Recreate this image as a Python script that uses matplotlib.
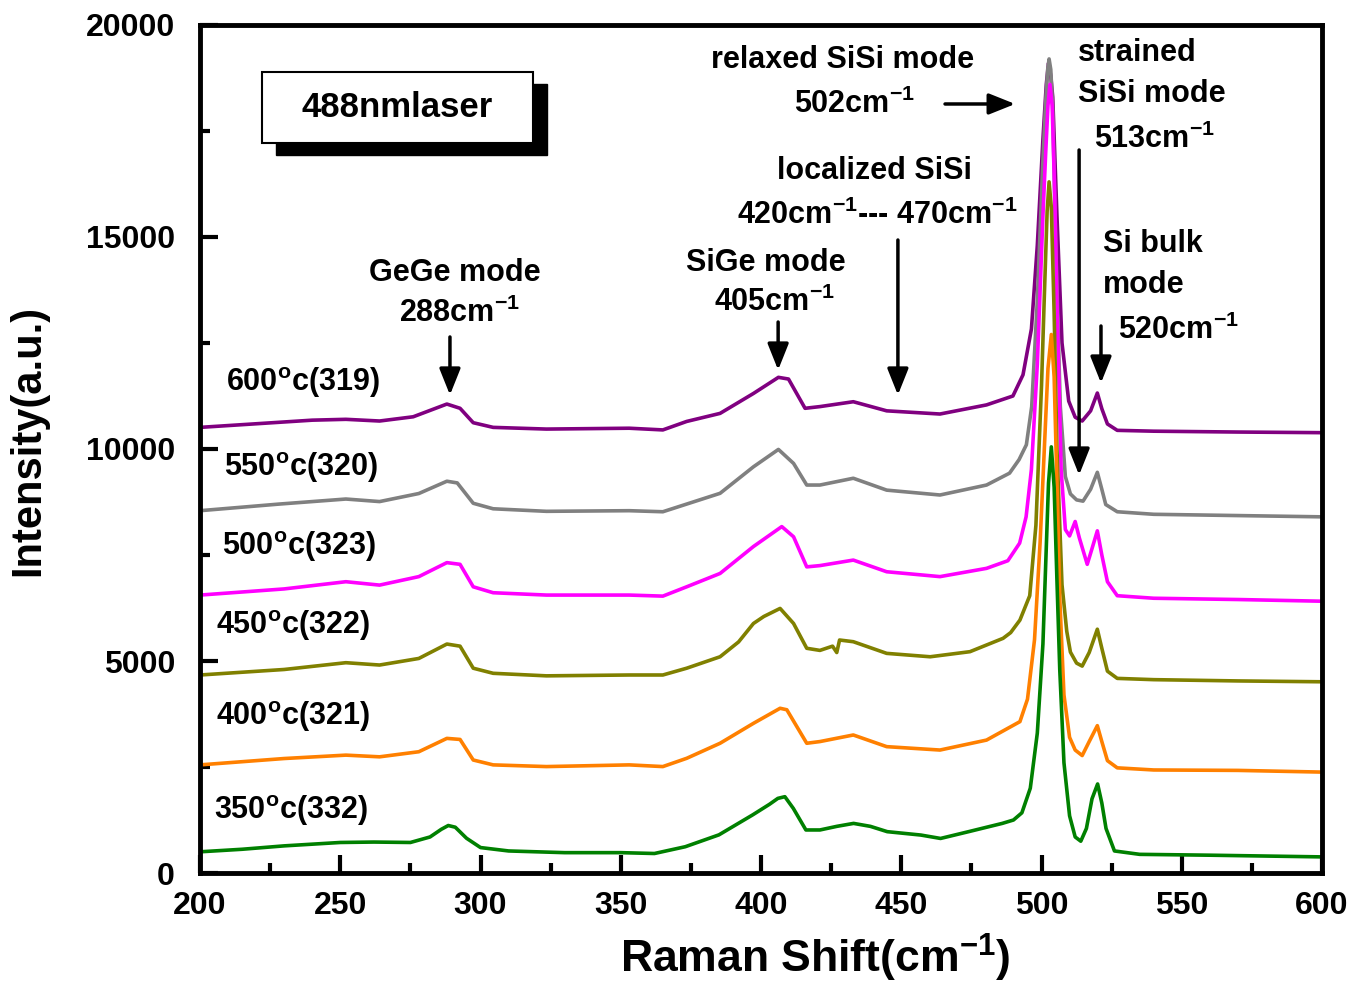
import matplotlib
matplotlib.use("Agg")
import matplotlib.pyplot as plt
from matplotlib.patches import Rectangle
from matplotlib.ticker import MultipleLocator

plt.rcParams["font.family"] = ["Liberation Sans", "DejaVu Sans"]
plt.rcParams["font.weight"] = "bold"
plt.rcParams["axes.labelweight"] = "bold"
plt.rcParams["mathtext.fontset"] = "custom"
plt.rcParams["mathtext.rm"] = "Liberation Sans:bold"
plt.rcParams["mathtext.it"] = "Liberation Sans:bold"
plt.rcParams["mathtext.bf"] = "Liberation Sans:bold"
plt.rcParams["mathtext.default"] = "rm"

# Raman spectra, stacked by anneal temperature (shift in cm^-1, intensity a.u.)
shift_350 = [200, 215, 230, 250, 262, 275, 282, 286, 288.5, 291, 295, 300, 310, 330, 350,
             362, 373, 385, 397, 403, 406, 408.5, 411.5, 416, 421, 427, 433, 439, 445, 457,
             464, 474, 486, 490, 493, 496, 498.5, 500.5, 501.5, 502.5, 503.5, 504.5, 505.5,
             506.5, 508, 510, 512, 514, 516, 518, 520, 521.5, 523, 526, 535, 560, 600]
inten_350 = [500, 560, 640, 720, 730, 720, 850, 1030, 1120, 1080, 820, 600, 520, 480, 480,
             460, 620, 900, 1370, 1620, 1760, 1800, 1525, 1015, 1015, 1100, 1170, 1100, 975, 895,
             815, 975, 1170, 1250, 1420, 2000, 3300, 5400, 7300, 9200, 10050, 9100, 6900,
             4800, 2600, 1350, 850, 750, 1050, 1750, 2100, 1650, 1050, 520, 440, 420, 380]

shift_400 = [200, 230, 252, 264, 278, 288, 292.7, 297.4, 304.5, 323.5, 353, 365, 373.5, 385.4,
             397.3, 406.8, 409.2, 416.3, 421, 432.9, 444.8, 463.8, 480.4, 492.3, 495, 497.5,
             499.5, 501, 502.3, 503.5, 504.5, 505.5, 506.5, 508, 510, 512, 514.5, 517, 519.9,
             521.5, 523.5, 527, 540, 570, 600]
inten_400 = [2550, 2700, 2780, 2740, 2860, 3175, 3150, 2665, 2550, 2510, 2550, 2510, 2705, 3060,
             3530, 3885, 3850, 3060, 3100, 3255, 2980, 2900, 3135, 3570, 4100, 5500,
             7800, 10000, 11900, 12700, 11700, 9200, 6500, 4200, 3200, 2900, 2770, 3100, 3475,
             3100, 2650, 2480, 2430, 2420, 2380]

shift_450 = [200, 230, 252, 264, 278, 288, 292.7, 297.4, 304.5, 323.5, 353, 365, 373.5, 385.4,
             392, 397.3, 401, 406.8, 411.6, 416.3, 421, 425.5, 427, 428, 432.9, 444.8, 460.3,
             474.5, 486.3, 489, 492.3, 495.8, 498, 500, 501, 502, 502.7, 503.5, 504.5, 505.5,
             507.3, 509, 510.3, 512.5, 514.5, 517, 519.9, 521.5, 523.5, 527, 540, 570, 600]
inten_450 = [4670, 4800, 4960, 4905, 5060, 5400, 5350, 4830, 4710, 4650, 4670, 4670, 4830, 5100,
             5450, 5885, 6050, 6240, 5885, 5300, 5250, 5350, 5200, 5495, 5455, 5180, 5100,
             5220, 5535, 5670, 5965, 6540, 8200, 11500, 13600, 15600, 16300, 15700, 13200, 10000,
             6800, 5700, 5210, 4950, 4880, 5200, 5750, 5300, 4760, 4590, 4560, 4530, 4510]

shift_500 = [200, 230, 252, 264, 278, 288, 292.7, 297.4, 304.5, 323.5, 353, 365, 373.5, 385.4,
             397.3, 407.4, 411.6, 416.3, 421, 432.9, 444.8, 463.8, 480.4, 488, 492.2, 494.5,
             496.4, 498.5, 500.5, 501.5, 502.3, 503, 503.8, 504.7, 505.5, 507, 508.5, 510, 512,
             513.5, 516.3, 518, 519.9, 521.5, 523.5, 527, 540, 570, 600]
inten_500 = [6555, 6700, 6870, 6790, 6990, 7320, 7280, 6750, 6610, 6555, 6555, 6530, 6750, 7065,
             7700, 8170, 7930, 7220, 7250, 7380, 7105, 6990, 7185, 7365, 7780, 8400,
             9520, 12000, 15500, 17000, 18100, 18600, 18100, 16000, 13500, 9500, 8100, 7950, 8290,
             7900, 7280, 7650, 8070, 7500, 6870, 6540, 6480, 6450, 6410]

shift_550 = [200, 228, 252, 264, 278, 288, 291.7, 297.4, 304.5, 323.5, 353, 365, 385.4, 397.3,
             406.2, 411.6, 416.3, 421, 432.9, 444.8, 463.8, 480.4, 488.6, 492, 494.6, 496.5,
             498.5, 500.5, 501.5, 502.2, 502.7, 503.3, 504, 505, 506.7, 508.5, 510.3, 512.5,
             514.8, 517.5, 519.9, 521.5, 522.9, 527, 540, 570, 600]
inten_550 = [8545, 8700, 8820, 8760, 8950, 9240, 9200, 8720, 8590, 8530, 8545, 8520, 8955, 9580,
             9990, 9660, 9150, 9150, 9310, 9030, 8915, 9150, 9430, 9750, 10100, 11000,
             13500, 16800, 18200, 18950, 19200, 18950, 18000, 15000, 11000, 9350, 8940, 8800,
             8770, 9050, 9450, 9050, 8690, 8520, 8460, 8430, 8400]

shift_600 = [200, 240, 252, 264, 276, 288, 292.7, 297.4, 304.5, 323.5, 353, 365, 373.5, 385.4,
             397.3, 406.2, 409.8, 415.7, 421, 432.9, 444.8, 463.8, 480.4, 489.8, 493.4, 496.4,
             498.5, 500.5, 501.7, 502.5, 503.3, 504, 505.5, 507.3, 509.7, 512, 514.5, 517.5,
             519.9, 521.5, 523.5, 527, 540, 570, 600]
inten_600 = [10510, 10680, 10700, 10660, 10760, 11060, 10960, 10620, 10510, 10470, 10490, 10450,
             10650, 10840, 11310, 11690, 11650, 10960, 11000, 11115, 10900, 10825, 11040, 11250,
             11750, 12830, 14800, 17300, 18600, 19100, 18800, 18300, 15500, 12500, 11130, 10750,
             10660, 10900, 11320, 10950, 10590, 10440, 10420, 10400, 10385]

sample_labels = ["600$^{o}$c(319)", "550$^{o}$c(320)", "500$^{o}$c(323)",
                 "450$^{o}$c(322)", "400$^{o}$c(321)", "350$^{o}$c(332)"]
sample_colors = ["#800080", "#808080", "#ff00ff", "#808000", "#ff8000", "#008000"]
spectra = [(shift_600, inten_600), (shift_550, inten_550), (shift_500, inten_500),
           (shift_450, inten_450), (shift_400, inten_400), (shift_350, inten_350)]
label_pos = [(209.3, 11557), (208.6, 9552), (207.8, 7689),
             (205.7, 5825), (205.7, 3679), (205.0, 1462)]

fig = plt.figure(figsize=(13.58, 9.84), dpi=100)
ax = fig.add_axes([0.1473, 0.1128, 0.8262, 0.8618])

for (xs, ys), color in zip(spectra, sample_colors):
    ax.plot(xs, ys, color=color, lw=2.6, solid_joinstyle="round")

for text, (tx, ty) in zip(sample_labels, label_pos):
    ax.text(tx, ty, text, fontsize=22, ha="left", va="center")

ax.set_xlim(200, 600)
ax.set_ylim(0, 20000)
ax.xaxis.set_major_locator(MultipleLocator(50))
ax.xaxis.set_minor_locator(MultipleLocator(25))
ax.yaxis.set_major_locator(MultipleLocator(5000))
ax.yaxis.set_minor_locator(MultipleLocator(2500))
ax.tick_params(which="both", direction="in", width=3, labelsize=23, top=False, right=False)
ax.tick_params(which="major", length=13)
ax.tick_params(which="minor", length=7)
ax.tick_params(axis="x", pad=13)
ax.tick_params(axis="y", pad=18)
for spine in ax.spines.values():
    spine.set_linewidth(3.5)

ax.set_xlabel("Raman Shift(cm$^{-1}$)", fontsize=32)
ax.set_ylabel("Intensity(a.u.)", fontsize=30)
ax.xaxis.set_label_coords(0.548, -0.07)
ax.yaxis.set_label_coords(-0.135, 0.51)

# laser box with drop shadow
ax.add_patch(Rectangle((227.1, 16934), 96.6, 1675, facecolor="black", edgecolor="black", zorder=5))
ax.add_patch(Rectangle((222.1, 17217), 96.6, 1675, facecolor="white", edgecolor="black",
                       lw=1.5, zorder=6))
ax.text(270.4, 18054, "488nmlaser", fontsize=25, ha="center", va="center", zorder=7)

# peak annotations
fs = 22
ax.text(290.9, 14151, "GeGe mode", fontsize=fs, ha="center", va="center")
ax.text(292.7, 13208, "288cm$^{-1}$", fontsize=fs, ha="center", va="center")
ax.text(401.8, 14387, "SiGe mode", fontsize=fs, ha="center", va="center")
ax.text(405.0, 13467, "405cm$^{-1}$", fontsize=fs, ha="center", va="center")
ax.text(440.6, 16557, "localized SiSi", fontsize=fs, ha="center", va="center")
ax.text(441.4, 15519, "420cm$^{-1}$--- 470cm$^{-1}$", fontsize=fs, ha="center", va="center")
ax.text(429.2, 19175, "relaxed SiSi mode", fontsize=fs, ha="center", va="center")
ax.text(433.5, 18137, "502cm$^{-1}$", fontsize=fs, ha="center", va="center")
ax.text(513.0, 19340, "strained", fontsize=fs, ha="left", va="center")
ax.text(513.0, 18373, "SiSi mode", fontsize=fs, ha="left", va="center")
ax.text(518.7, 17311, "513cm$^{-1}$", fontsize=fs, ha="left", va="center")
ax.text(521.9, 14835, "Si bulk", fontsize=fs, ha="left", va="center")
ax.text(521.9, 13868, "mode", fontsize=fs, ha="left", va="center")
ax.text(527.3, 12807, "520cm$^{-1}$", fontsize=fs, ha="left", va="center")

arrow_style = dict(arrowstyle="-|>,head_length=0.8,head_width=0.32", color="black",
                   lw=2.5, mutation_scale=20, shrinkA=0, shrinkB=0)
arrows = [((289.1, 12642), (289.1, 11274)),
          ((406.1, 12995), (406.1, 11863)),
          ((448.8, 14929), (448.8, 11274)),
          ((513.4, 17052), (513.4, 9387)),
          ((521.2, 12901), (521.2, 11557)),
          ((465.6, 18137), (490.6, 18137))]
for start, end in arrows:
    ax.annotate("", xy=end, xytext=start, arrowprops=arrow_style, zorder=8)

fig.savefig("out.png", dpi=100)
